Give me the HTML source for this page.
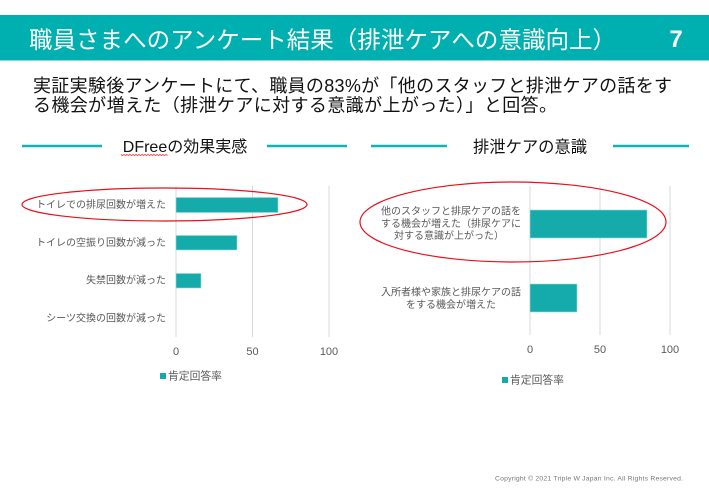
<!DOCTYPE html>
<html><head><meta charset="utf-8"><style>
html,body{margin:0;padding:0;background:#fff;}
svg{display:block;}
text{font-family:"Liberation Sans","Noto Sans CJK JP",sans-serif;}
</style></head><body>
<svg width="709" height="489" viewBox="0 0 709 489" xmlns="http://www.w3.org/2000/svg">
<rect x="0" y="0" width="709" height="489" fill="#fff"/>
<!-- header -->
<rect x="0" y="15" width="709" height="45" fill="#00AFAF"/>
<rect x="0" y="60" width="709" height="1" fill="#8fd6d6"/>
<text x="29" y="40" font-size="23.5" fill="#fff" dominant-baseline="central" textLength="587" lengthAdjust="spacing">職員さまへのアンケート結果（排泄ケアへの意識向上）</text>
<text x="676" y="47" font-size="24" fill="#fff" font-weight="bold" text-anchor="middle">7</text>
<!-- body text -->
<text x="33" y="86" font-size="18" fill="#111" dominant-baseline="central" textLength="639" lengthAdjust="spacing">実証実験後アンケートにて、職員の83%が「他のスタッフと排泄ケアの話をす</text>
<text x="33" y="105.5" font-size="18" fill="#111" dominant-baseline="central" textLength="524" lengthAdjust="spacing">る機会が増えた（排泄ケアに対する意識が上がった）」と回答。</text>

<!-- left section title -->
<line x1="22" y1="146" x2="102" y2="146" stroke="#12B3B3" stroke-width="2.5"/>
<line x1="267" y1="146" x2="347" y2="146" stroke="#12B3B3" stroke-width="2.5"/>
<text x="185" y="147.5" font-size="16" fill="#111" text-anchor="middle" dominant-baseline="central">DFreeの効果実感</text>
<polyline points="121,154.5 122.5,155.5 124,154.5 125.5,155.5 127,154.5 128.5,155.5 130,154.5 131.5,155.5 133,154.5 134.5,155.5 136,154.5 137.5,155.5 139,154.5 140.5,155.5 142,154.5 143.5,155.5 145,154.5 146.5,155.5 148,154.5 149.5,155.5 151,154.5 152.5,155.5 154,154.5 155.5,155.5 157,154.5 158.5,155.5 160,154.5 161.5,155.5 163,154.5 164.5,155.5 166,154.5 167.5,155.5" fill="none" stroke="#e33" stroke-width="0.8"/>

<!-- left chart grid -->
<g stroke="#d9d9d9" stroke-width="1">
<line x1="176" y1="186" x2="176" y2="337"/>
<line x1="252.5" y1="186" x2="252.5" y2="337"/>
<line x1="329" y1="186" x2="329" y2="337"/>
</g>
<g fill="#15ABAA" stroke="#9adada" stroke-width="0.6">
<rect x="176" y="197.5" width="102" height="15"/>
<rect x="176" y="235.5" width="61" height="14.5"/>
<rect x="176" y="273.5" width="25" height="14.5"/>
</g>
<g font-size="10" fill="#595959" text-anchor="end" dominant-baseline="central">
<text x="166" y="205.5">トイレでの排尿回数が増えた</text>
<text x="166" y="243.5">トイレの空振り回数が減った</text>
<text x="166" y="281">失禁回数が減った</text>
<text x="166" y="319">シーツ交換の回数が減った</text>
</g>
<g font-size="11" fill="#595959" text-anchor="middle" dominant-baseline="central">
<text x="176" y="352">0</text>
<text x="252.5" y="352">50</text>
<text x="329" y="352">100</text>
</g>
<rect x="160" y="373" width="6" height="6" fill="#15ABAA"/>
<text x="168" y="376.5" font-size="10.8" fill="#595959" dominant-baseline="central">肯定回答率</text>
<ellipse cx="164.5" cy="204.5" rx="142.5" ry="16.5" fill="none" stroke="#e8101a" stroke-width="1.2"/>

<!-- right section title -->
<line x1="371" y1="146" x2="447" y2="146" stroke="#12B3B3" stroke-width="2.5"/>
<line x1="613" y1="146" x2="689" y2="146" stroke="#12B3B3" stroke-width="2.5"/>
<text x="530" y="147.5" font-size="16.3" fill="#111" text-anchor="middle" dominant-baseline="central">排泄ケアの意識</text>

<!-- right chart grid -->
<g stroke="#d9d9d9" stroke-width="1">
<line x1="530" y1="186" x2="530" y2="335"/>
<line x1="600" y1="186" x2="600" y2="335"/>
<line x1="670" y1="186" x2="670" y2="335"/>
</g>
<g fill="#15ABAA" stroke="#9adada" stroke-width="0.6">
<rect x="530" y="210" width="117" height="28"/>
<rect x="530" y="284" width="47" height="28"/>
</g>
<g font-size="10" fill="#595959" text-anchor="middle" dominant-baseline="central">
<text x="451" y="212">他のスタッフと排尿ケアの話を</text>
<text x="451" y="224.3">する機会が増えた（排尿ケアに</text>
<text x="449" y="236.6">対する意識が上がった）</text>
<text x="451" y="293">入所者様や家族と排尿ケアの話</text>
<text x="451" y="305.3">をする機会が増えた</text>
</g>
<g font-size="11" fill="#595959" text-anchor="middle" dominant-baseline="central">
<text x="530" y="350">0</text>
<text x="600" y="350">50</text>
<text x="670" y="350">100</text>
</g>
<rect x="502" y="377" width="6" height="6" fill="#15ABAA"/>
<text x="510" y="380.5" font-size="10.8" fill="#595959" dominant-baseline="central">肯定回答率</text>
<ellipse cx="513" cy="222" rx="153" ry="40" fill="none" stroke="#e8101a" stroke-width="1.2"/>

<!-- copyright -->
<text x="495" y="479" font-size="6.8" fill="#777" dominant-baseline="central" textLength="188" lengthAdjust="spacing">Copyright © 2021 Triple W Japan Inc. All Rights Reserved.</text>
</svg>
</body></html>
